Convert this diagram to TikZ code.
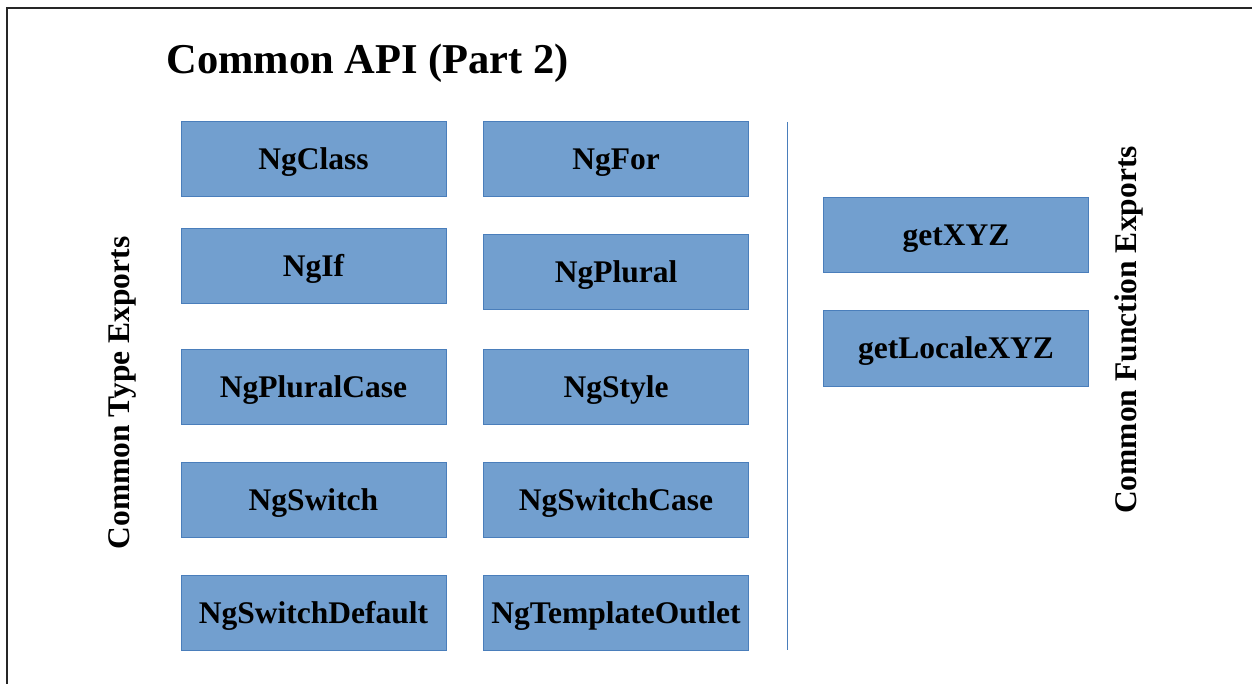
\documentclass[tikz,border=0pt]{standalone}
\usepackage{fontspec}
\setmainfont{Liberation Serif}
\definecolor{boxfill}{HTML}{729FCF}
\definecolor{boxline}{HTML}{4A7EBB}

\begin{document}
\begin{tikzpicture}[x=1pt, y=-1pt,
    apibox/.style={draw=boxline, fill=boxfill, line width=1pt,
      minimum width=265pt, minimum height=75pt, inner sep=0pt,
      text height=21pt, text depth=0pt,
      font=\fontsize{31.5}{34}\selectfont\bfseries},
    sidelabel/.style={rotate=90, font=\fontsize{31.5}{34}\selectfont\bfseries}]

  \useasboundingbox (0,0) rectangle (1252,684);

  \newcommand\CA{313.5}
  \newcommand\CB{616}
  \newcommand\CC{956}

  % frame
  \draw[line width=1.5pt, black!85] (7,684) -- (7,8) -- (1252,8);

  \node[anchor=west, font=\fontsize{42.5}{46}\selectfont\bfseries] (title) at (163,63) {Common API (Part 2)};

  % type exports
  \node[apibox] (ngclass) at (\CA,159.5) {NgClass};
  \node[apibox] (ngif) at (\CA,266.5) {NgIf};
  \node[apibox] (ngpluralcase) at (\CA,386.5) {NgPluralCase};
  \node[apibox] (ngswitch) at (\CA,499.5) {NgSwitch};
  \node[apibox] (ngswitchdefault) at (\CA,612.5) {NgSwitchDefault};

  \node[apibox] (ngfor) at (\CB,159.5) {NgFor};
  \node[apibox] (ngplural) at (\CB,272.5) {NgPlural};
  \node[apibox] (ngstyle) at (\CB,386.5) {NgStyle};
  \node[apibox] (ngswitchcase) at (\CB,499.5) {NgSwitchCase};
  \node[apibox] (ngtemplateoutlet) at (\CB,612.5) {NgTemplateOutlet};

  % function exports
  \node[apibox] (getxyz) at (\CC,235.5) {getXYZ};
  \node[apibox] (getlocalexyz) at (\CC,348.5) {getLocaleXYZ};

  % separator
  \coordinate (septop) at (787,122);
  \coordinate (sepbot) at (787,650);
  \draw[boxline, line width=1pt] (septop) -- (sepbot);

  \node[sidelabel] (typelabel) at (122,393) {Common Type Exports};
  \node[sidelabel] (funclabel) at (1129,330) {Common Function Exports};
\end{tikzpicture}
\end{document}
